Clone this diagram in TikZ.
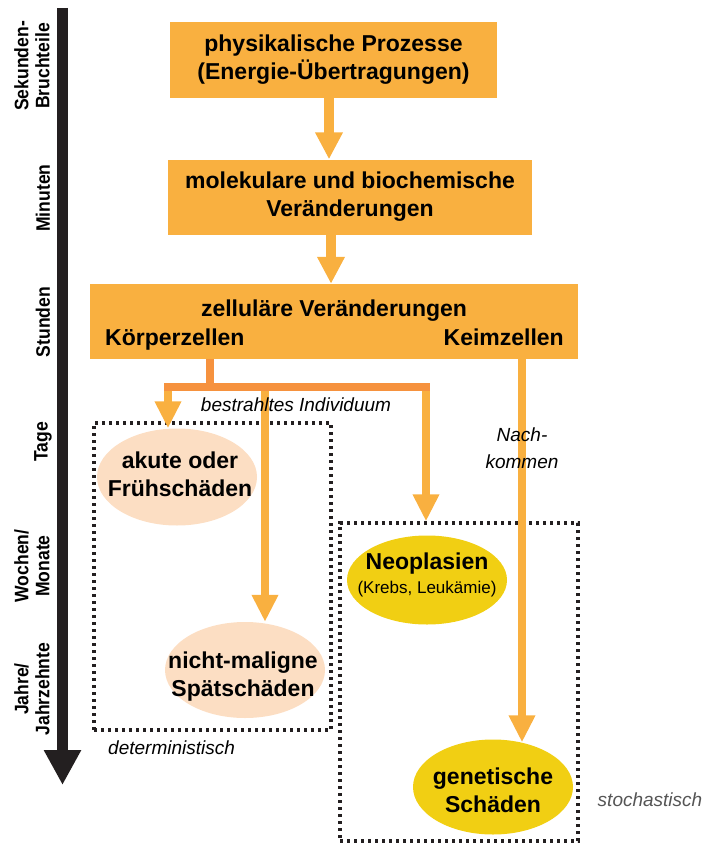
\documentclass[tikz,border=0pt]{standalone}
\usepackage{fontspec}
\setmainfont{Liberation Sans}
\newfontfamily\condfont[FakeStretch=0.9]{Liberation Sans}
\usetikzlibrary{arrows.meta,shapes.geometric}
\definecolor{boxorange}{HTML}{F9B040}
\definecolor{branchorange}{HTML}{F6923E}
\definecolor{peach}{HTML}{FCDEC3}
\definecolor{goldyellow}{HTML}{F1CF13}
\definecolor{darkdot}{HTML}{231F20}
\definecolor{graytext}{HTML}{555555}
\begin{document}
\begin{tikzpicture}[x=1pt,y=-1pt,
  procbox/.style={fill=boxorange, inner sep=0pt, align=center,
    font=\fontsize{23}{28}\selectfont\bfseries},
  boldtxt/.style={inner sep=0pt, align=center, font=\fontsize{23}{28}\selectfont\bfseries},
  itxt/.style={inner sep=0pt, align=center, font=\fontsize{19}{27}\selectfont\itshape},
  timelbl/.style={inner sep=0pt, align=center, rotate=90,
    font=\condfont\fontsize{19.5}{21}\selectfont\bfseries},
  effect/.style={ellipse, inner sep=0pt, minimum width=160pt},
  groupbox/.style={draw=darkdot, line width=3.4pt, dash pattern=on 3.4pt off 3.6pt, inner sep=0pt},
  bigarrow/.style={draw=boxorange, line width=10pt, -{Triangle[width=26pt,length=27pt]}},
  droparrow/.style={draw=boxorange, line width=8pt, -{Triangle[width=25pt,length=27pt]}},
  branch/.style={draw=branchorange, line width=8pt},
  timearrow/.style={draw=darkdot, line width=11pt, -{Triangle[width=35pt,length=35pt]}}
]
\useasboundingbox (0,0) rectangle (719,843);

% time axis
\coordinate (tstart) at (62.5,8);
\coordinate (tend) at (62.5,785);
\draw[timearrow] (tstart) -- (tend);
\node[timelbl] (tl1) at (32,66) {Sekunden-\\Bruchteile};
\node[timelbl] (tl2) at (43,198) {Minuten};
\node[timelbl] (tl3) at (43,322) {Stunden};
\node[timelbl] (tl4) at (43,442) {Tage};
\node[timelbl] (tl5) at (32,566) {Wochen/\\Monate};
\node[timelbl] (tl6) at (32,689) {Jahre/\\Jahrzehnte};

% group boxes
\node[groupbox, minimum width=237pt, minimum height=307pt] (detbox) at (212.5,576.5) {};
\node[groupbox, minimum width=238pt, minimum height=318pt] (stobox) at (459,682) {};

% process boxes
\node[procbox, minimum width=327pt, minimum height=76pt] (b1) at (333.5,60)
  {physikalische Prozesse\\(Energie-Übertragungen)};
\node[procbox, minimum width=364pt, minimum height=75pt] (b2) at (350,197)
  {molekulare und biochemische\\Veränderungen};
\node[procbox, minimum width=488pt, minimum height=75pt] (b3) at (334,321.5) {};
\node[boldtxt, anchor=base] (zell) at (334,316) {zelluläre Veränderungen};
\node[boldtxt, anchor=base west] (koerper) at (105,345) {Körperzellen};
\node[boldtxt, anchor=base east] (keim) at (564,345) {Keimzellen};

% effects
\node[effect, fill=peach, minimum height=97pt] (akute) at (177,477) {};
\node[boldtxt] (akutet) at (180,474) {akute oder\\Frühschäden};
\node[effect, fill=peach, minimum height=96pt] (spaet) at (245,670) {};
\node[boldtxt] (spaett) at (243,677) {nicht-maligne\\Spätschäden};
\node[effect, fill=goldyellow, minimum height=89pt] (neo) at (427,580) {};
\node[boldtxt] (neot) at (427,575)
  {Neoplasien\\[-4pt]{\fontsize{17}{20}\selectfont\mdseries (Krebs, Leukämie)}};
\node[effect, fill=goldyellow, minimum height=95pt] (gen) at (493,787) {};
\node[boldtxt] (gent) at (493,790) {genetische\\Schäden};

% main arrows
\coordinate (a1) at (329,0);
\coordinate (a2) at (331,0);
\draw[bigarrow] (a1 |- b1.south) -- (a1 |- b2.north);
\draw[bigarrow] (a2 |- b2.south) -- (a2 |- b3.north);

% branches
\coordinate (stub) at (210,391);
\coordinate (barL) at (164,387);
\coordinate (barR) at (430,387);
\coordinate (dL) at (168,387);
\coordinate (dM) at (265,387);
\coordinate (dR) at (426,387);
\coordinate (kx) at (522,0);
\draw[droparrow] (dL) -- (dL |- akute.north);
\draw[droparrow] (dM) -- (dM |- spaet.north);
\draw[droparrow] (dR) -- (dR |- stobox.north);
\draw[branch] (stub |- b3.south) -- (stub);
\draw[branch] (barL) -- (barR);
\draw[droparrow] (kx |- b3.south) -- ([yshift=-3pt]kx |- gen.north);

% labels
\node[itxt] (indiv) at (296,405) {bestrahltes Individuum};
\node[itxt] (nach) at (522,448) {Nach-\\kommen};
\node[itxt, anchor=west] (det) at (108,748) {deterministisch};
\node[itxt, text=graytext] (sto) at (650,800) {stochastisch};
\end{tikzpicture}
\end{document}
